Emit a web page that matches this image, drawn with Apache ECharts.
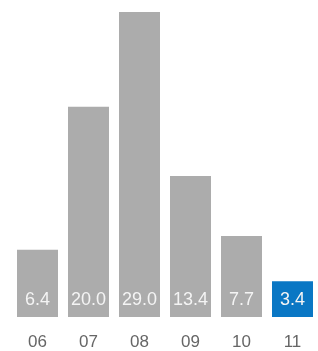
<!DOCTYPE html>
<html>
<head>
<meta charset="UTF-8">
<style>
  html, body { margin: 0; padding: 0; background: #fff; }
  #chart { width: 318px; height: 351px; }
</style>
<script src="https://cdn.jsdelivr.net/npm/echarts@6/dist/echarts.min.js"></script>
</head>
<body>
<div id="chart"></div>
<script>
  // 数据
  const months = ['06', '07', '08', '09', '10', '11'];
  const values = [6.4, 20.0, 29.0, 13.4, 7.7, 3.4];
  const highlightIndex = 5;

  const chart = echarts.init(document.getElementById('chart'));

  chart.setOption({
    animation: false,
    grid: { left: 12, right: 0, top: 12, bottom: 31 },
    xAxis: {
      type: 'category',
      data: months,
      axisLine: { show: false },
      axisTick: { show: false },
      axisLabel: {
        color: '#666',
        fontSize: 17,
        margin: 17,
        fontFamily: 'Liberation Sans, Arial, sans-serif'
      }
    },
    yAxis: {
      type: 'value',
      min: 0,
      max: 29,
      show: false,
      splitLine: { show: false }
    },
    series: [{
      type: 'bar',
      data: values.map((v, i) => ({
        value: v,
        itemStyle: { color: i === highlightIndex ? '#0a77c4' : '#acacac' }
      })),
      barWidth: 41,
      label: {
        show: true,
        position: 'insideBottom',
        distance: 8,
        color: '#f4f4f4',
        fontSize: 18,
        fontFamily: 'Liberation Sans, Arial, sans-serif',
        formatter: p => p.value.toFixed(1)
      }
    }]
  });
</script>
</body>
</html>
